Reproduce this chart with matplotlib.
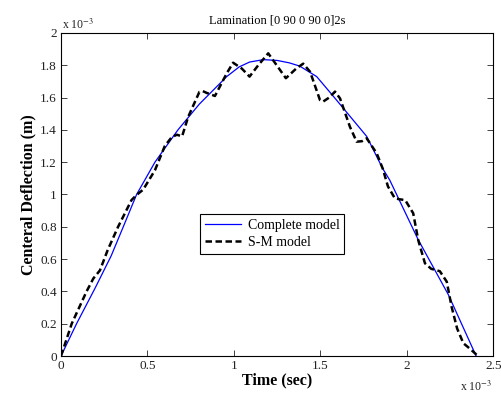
import matplotlib
matplotlib.use("Agg")
import matplotlib.pyplot as plt

plt.rcParams['font.family'] = ['Liberation Serif', 'DejaVu Serif']
plt.rcParams['mathtext.fontset'] = 'stix'

# values in units of 1e-3
t_complete = [0, 0.09, 0.197, 0.29, 0.36, 0.437, 0.543, 0.676, 0.80, 0.958, 1.03, 1.09, 1.17,
              1.25, 1.32, 1.38, 1.478, 1.573, 1.767, 1.86, 1.90, 2.065, 2.239, 2.40]
y_complete = [0, 0.2, 0.42, 0.62, 0.8, 1.0, 1.2, 1.40, 1.56, 1.73, 1.79, 1.82, 1.835,
              1.83, 1.815, 1.795, 1.73, 1.61, 1.36, 1.16, 1.09, 0.72, 0.38, 0.0]

t_sm = [0, 0.062, 0.148, 0.187, 0.225, 0.27, 0.33, 0.408, 0.44, 0.475, 0.543, 0.60, 0.64,
        0.67, 0.70, 0.735, 0.80, 0.82, 0.84, 0.89, 0.958, 0.995, 1.045, 1.09, 1.14, 1.198,
        1.247, 1.30, 1.36, 1.40, 1.44, 1.497, 1.515, 1.55, 1.584, 1.613, 1.67, 1.709,
        1.74, 1.767, 1.825, 1.86, 1.89, 1.93, 1.96, 1.99, 2.036, 2.065, 2.104, 2.14,
        2.19, 2.23, 2.258, 2.29, 2.326, 2.364, 2.40, 2.41]
y_sm = [0, 0.2, 0.4, 0.48, 0.53, 0.656, 0.8, 0.966, 1.0, 1.03, 1.15, 1.30, 1.355,
        1.37, 1.36, 1.48, 1.635, 1.64, 1.63, 1.61, 1.75, 1.816, 1.78, 1.73, 1.80, 1.874,
        1.80, 1.72, 1.78, 1.81, 1.76, 1.585, 1.575, 1.60, 1.637, 1.595, 1.42, 1.327,
        1.33, 1.348, 1.255, 1.16, 1.05, 0.976, 0.97, 0.965, 0.884, 0.718, 0.574, 0.54,
        0.525, 0.46, 0.305, 0.17, 0.079, 0.045, 0.01, 0]

xticks = [0, 0.5, 1, 1.5, 2, 2.5]
xticklabels = ['0', '0.5', '1', '1.5', '2', '2.5']
yticks = [0, 0.2, 0.4, 0.6, 0.8, 1, 1.2, 1.4, 1.6, 1.8, 2]
yticklabels = ['0', '0.2', '0.4', '0.6', '0.8', '1', '1.2', '1.4', '1.6', '1.8', '2']

fig = plt.figure(figsize=(5.02, 3.96), dpi=100)
ax = fig.add_axes([0.1215, 0.101, 0.8615, 0.8157])

ax.plot(t_complete, y_complete, color='#0000ff', lw=0.9, label='Complete model')
ax.plot(t_sm, y_sm, color='black', lw=1.8, ls=(0, (2.6, 1.4)), label='S-M model')

ax.set_xlim(0, 2.5)
ax.set_ylim(0, 2)
ax.set_xticks(xticks)
ax.set_xticklabels(xticklabels)
ax.set_yticks(yticks)
ax.set_yticklabels(yticklabels)
ax.tick_params(direction='in', top=True, right=True, length=4, width=0.6,
               labelsize=9.5, colors='#222222', pad=3)
for s in ax.spines.values():
    s.set_linewidth(0.8)
    s.set_color('black')

ax.set_xlabel('Time (sec)', fontsize=11.5, fontweight='bold', labelpad=0)
ax.set_ylabel('Centeral Deflection (m)', fontsize=11.5, fontweight='bold', labelpad=3)
ax.set_title('Lamination [0 90 0 90 0]2s', fontsize=9, pad=7)

fig.text(0.124, 0.928, r'x 10$^{-3}$', fontsize=8.5, color='#222222')
fig.text(0.917, 0.012, r'x 10$^{-3}$', fontsize=8.5, color='#222222')

leg = ax.legend(loc='center', bbox_to_anchor=(0.488, 0.378), fontsize=10,
                fancybox=False, framealpha=1, edgecolor='black',
                handlelength=2.6, handletextpad=0.5, borderpad=0.35,
                labelspacing=0.25, borderaxespad=0)
leg.get_frame().set_linewidth(0.8)

fig.savefig('out.png', dpi=100)
